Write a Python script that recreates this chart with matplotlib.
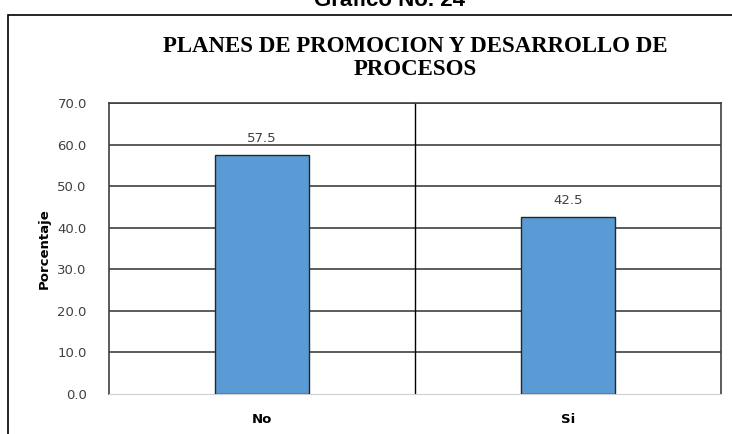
"""Gráfico No. 24 — planes de promoción y desarrollo de procesos"""
import matplotlib
matplotlib.use("Agg")
import matplotlib.pyplot as plt
from matplotlib.patches import Rectangle

categorias = ["No", "Si"]
porcentajes = [57.5, 42.5]
yticks = [0, 10, 20, 30, 40, 50, 60, 70]

fig = plt.figure(figsize=(7.32, 4.34), dpi=100)

# marco exterior del gráfico (como en Excel)
fig.patches.append(Rectangle((8 / 732, -0.05), 1.0, 1 - 15 / 434 + 0.05,
                             transform=fig.transFigure, fill=False,
                             edgecolor="black", lw=1.2))

# titulo del documento, cortado arriba
fig.text(390 / 732, 1 - 1 / 434, "Gráfico No. 24", ha="center", va="center",
         fontsize=16, fontweight="bold", family="Liberation Sans")

fig.text(415 / 732, 1 - 58 / 434, "PLANES DE PROMOCION Y DESARROLLO DE\nPROCESOS",
         ha="center", va="center", fontsize=16.5, fontweight="bold",
         family="Liberation Serif", linespacing=1.15)

ax = fig.add_axes([109 / 732, 1 - 394 / 434, 612 / 732, 291 / 434])
x = list(range(len(categorias)))
bars = ax.bar(x, porcentajes, width=0.31, color="#5B9BD5", edgecolor="#262626", lw=1.0, zorder=3)

ax.set_xlim(-0.5, 1.5)
ax.set_ylim(0, 70)
ax.set_yticks(yticks)
ax.set_yticklabels([f"{v:.1f}" for v in yticks])
ax.set_xticks(x)
ax.set_xticklabels(categorias, fontweight="bold")
ax.tick_params(axis="both", length=0, labelsize=9.5, colors="#404040")
ax.tick_params(axis="y", pad=16)
ax.tick_params(axis="x", pad=14)
for lbl in ax.get_xticklabels():
    lbl.set_color("black")

# lineas de cuadricula
for v in yticks[1:]:
    ax.axhline(v, color="#404040", lw=1.2, zorder=1)
ax.axvline(0.5, color="black", lw=1.0, zorder=1)

for side in ["left", "right", "top"]:
    ax.spines[side].set_color("#404040")
    ax.spines[side].set_linewidth(1.2)
ax.spines["bottom"].set_color("#d0d0d0")

for b, v in zip(bars, porcentajes):
    ax.text(b.get_x() + b.get_width() / 2, v + 2.5, f"{v:.1f}", ha="center", va="bottom",
            fontsize=9.5, color="#404040")

ax.set_ylabel("Porcentaje", fontsize=9.5, fontweight="bold", labelpad=5)

plt.savefig("out.png", dpi=100)
